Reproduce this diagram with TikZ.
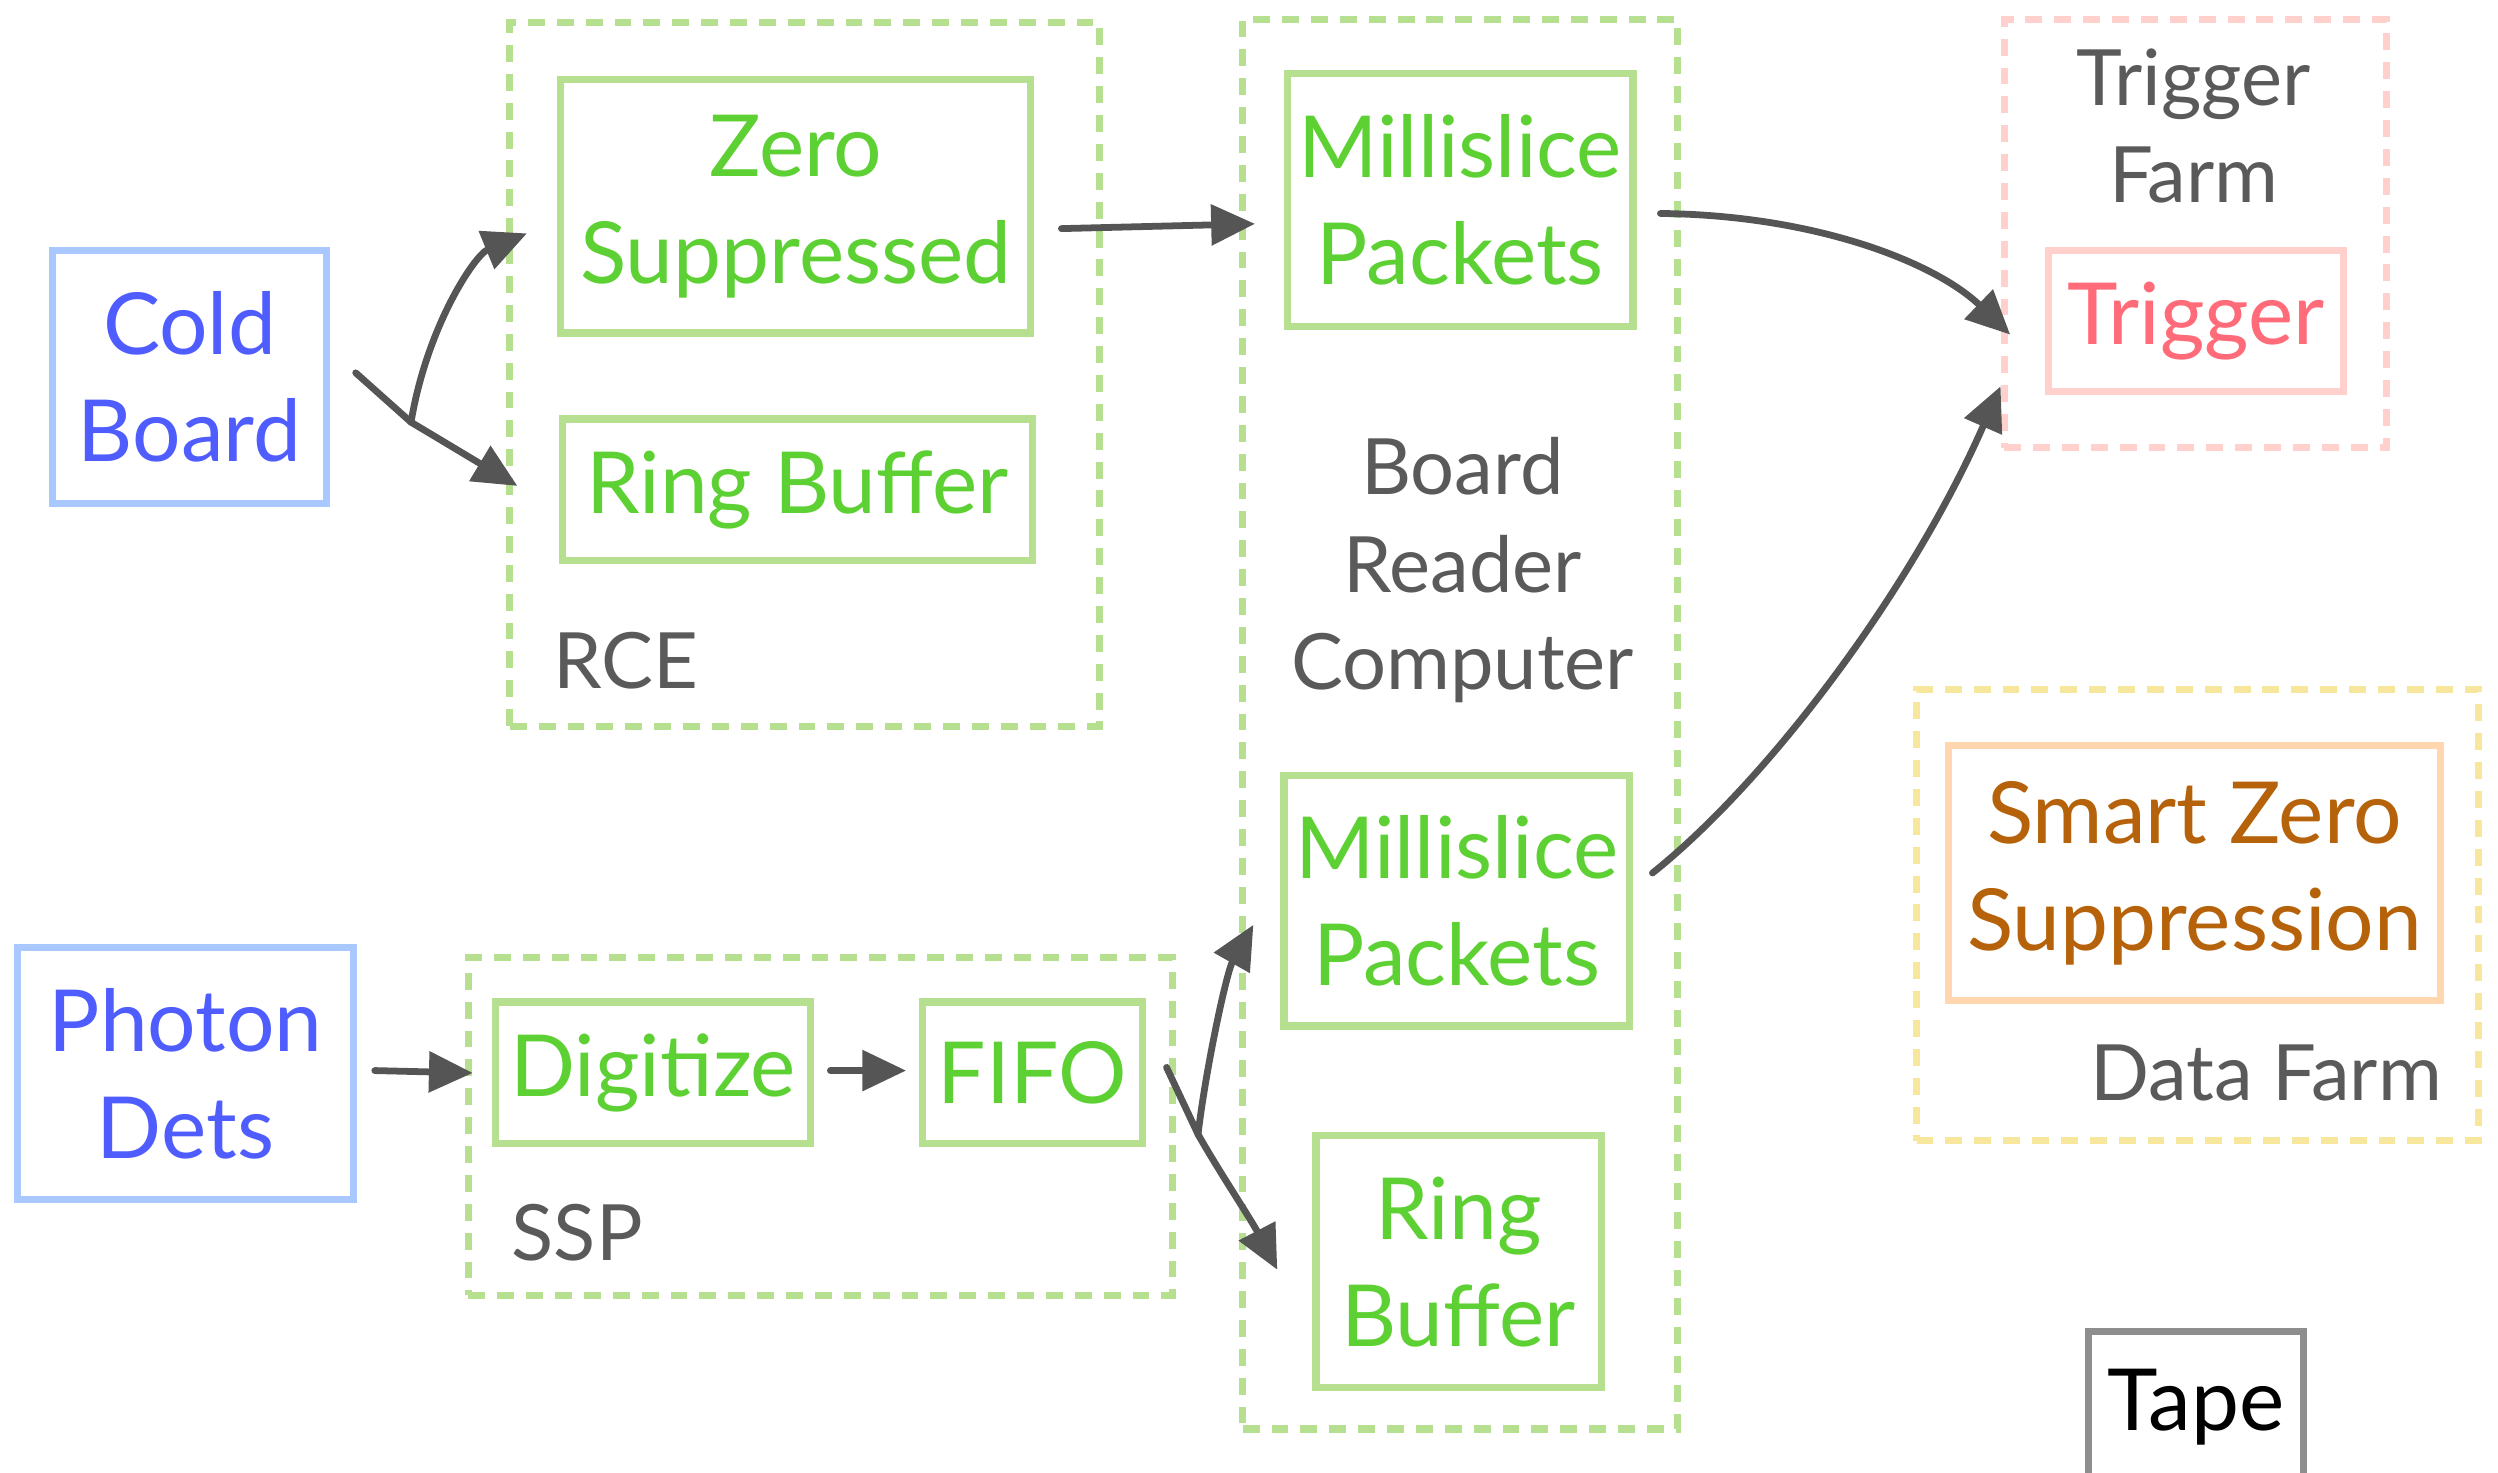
\documentclass[tikz,border=0pt]{standalone}
\usepackage{fontspec}
\setmainfont{Lato}
\usetikzlibrary{arrows.meta,calc}
\definecolor{bluetxt}{HTML}{4F5DFF}
\definecolor{bluebox}{HTML}{A9C8FF}
\definecolor{greentxt}{HTML}{5DD133}
\definecolor{greenbox}{HTML}{B6E08F}
\definecolor{graytxt}{HTML}{5A5A5A}
\definecolor{redtxt}{HTML}{FF6B78}
\definecolor{pinkbox}{HTML}{FFD0CC}
\definecolor{orangetxt}{HTML}{B5620A}
\definecolor{orangebox}{HTML}{FFD6AD}
\definecolor{yellowbox}{HTML}{F6E79C}
\definecolor{tapebox}{HTML}{8E8E8E}
\definecolor{arrowc}{HTML}{555555}
\begin{document}
\begin{tikzpicture}[x=0.8pt,y=-0.8pt,
  txt/.style={font=\fontsize{43}{53.6}\selectfont, align=center, inner sep=0pt},
  lbl/.style={font=\fontsize{39}{49}\selectfont, align=center, inner sep=0pt, text=graytxt},
  sz/.style 2 args={minimum width=#1*0.8pt, minimum height=#2*0.8pt},
  box/.style={txt, draw=#1, line width=3.6pt},
  grp/.style={draw=#1, line width=3.6pt, dash pattern=on 8.5pt off 6pt, inner sep=0pt},
  conn/.style={draw=arrowc, line width=3.4pt, line cap=round, line join=round},
  arr/.style={conn, -{Triangle[length=22pt,width=20pt]}}]
\useasboundingbox[fill=white] (0,0) rectangle (1568,924);

% groups
\node[grp=greenbox, sz={370}{442}] (rce) at (505,235) {};
\node[grp=greenbox, sz={273}{885}] (brc) at (916.5,454.5) {};
\node[grp=pinkbox, sz={240}{269}] (tf) at (1378,146.5) {};
\node[grp=yellowbox, sz={353}{283}] (df) at (1379.5,574.5) {};
\node[grp=greenbox, sz={442}{212}] (ssp) at (515,707) {};

% group labels
\node[lbl, anchor=base west] (rcelbl) at (347,432) {RCE};
\node[lbl, anchor=base west] (ssplbl) at (321,791) {SSP};
\node[lbl, anchor=base east] (dflbl) at (1533,691) {Data Farm};
\node[lbl] (tflbl) at (1377,79) {Trigger\\Farm};
\node[lbl] (brclbl) at (918,358) {Board\\Reader\\Computer};

% boxes
\node[box=bluebox, text=bluetxt, sz={172}{159}] (cb) at (119,236.5) {Cold\\Board};
\node[box=bluebox, text=bluetxt, sz={211}{158}] (pd) at (116.5,674) {Photon\\Dets};
\node[box=greenbox, text=greentxt, sz={295}{159}] (zs) at (499.5,129.5) {Zero\\Suppressed};
\node[box=greenbox, text=greentxt, sz={295}{89}] (rb1) at (500.5,307.5) {Ring Buffer};
\node[box=greenbox, text=greentxt, sz={217}{159}] (mp1) at (916.5,125.5) {Millislice\\Packets};
\node[box=greenbox, text=greentxt, sz={217}{157}] (mp2) at (914.5,565.5) {Millislice\\Packets};
\node[box=greenbox, text=greentxt, sz={179}{158}] (rb2) at (915.5,792) {Ring\\Buffer};
\node[box=greenbox, text=greentxt, sz={198}{89}] (dg) at (410,673.5) {Digitize};
\node[box=greenbox, text=greentxt, sz={138}{89}] (ff) at (648,673.5) {FIFO};
\node[box=pinkbox, text=redtxt, sz={185}{89}] (trig) at (1378.5,201.5) {Trigger};
\node[box=orangebox, text=orangetxt, sz={309}{160}] (szs) at (1377.5,548) {Smart Zero\\Suppression};
\node[box=tapebox, text=black, sz={135}{94}] (tape) at (1378.5,883) {Tape};

% connectors
\coordinate (cbs) at (258,265);
\draw[conn] ($(cb.east)+(16,-2.5)$) -- (cbs);
\draw[arr] (cbs) -- ($(rb1.west)+(-26,-2.5)$);
\draw[arr] (cbs) .. controls (268,205) and (298,160) .. ($(zs.west)+(-19,17)$);
\draw[arr] ($(zs.east)+(17,14)$) -- ($(mp1.west)+(-18,15)$);
\draw[arr] ($(mp1.east)+(15,8.5)$) .. controls (1140,135) and (1215,165) .. ($(trig.west)+(-22,8.5)$);
\draw[arr] ($(mp2.east)+(12,-17.5)$) .. controls (1110,490) and (1200,370) .. ($(trig.west)+(-28,41)$);
\draw[arr] ($(pd.east)+(11,-2)$) -- ($(dg.west)+(-12,0)$);
\draw[arr] ($(dg.east)+(10,-1.5)$) -- ($(ff.west)+(-8,-1.5)$);
\coordinate (ffs) at (752,712);
\draw[conn] ($(ff.east)+(13,-3.5)$) -- (ffs);
\draw[arr] (ffs) .. controls (765,735) and (785,765) .. ($(rb2.west)+(-22,5)$);
\draw[arr] (ffs) .. controls (757,670) and (770,610) .. ($(mp2.west)+(-17,15)$);
\end{tikzpicture}
\end{document}
